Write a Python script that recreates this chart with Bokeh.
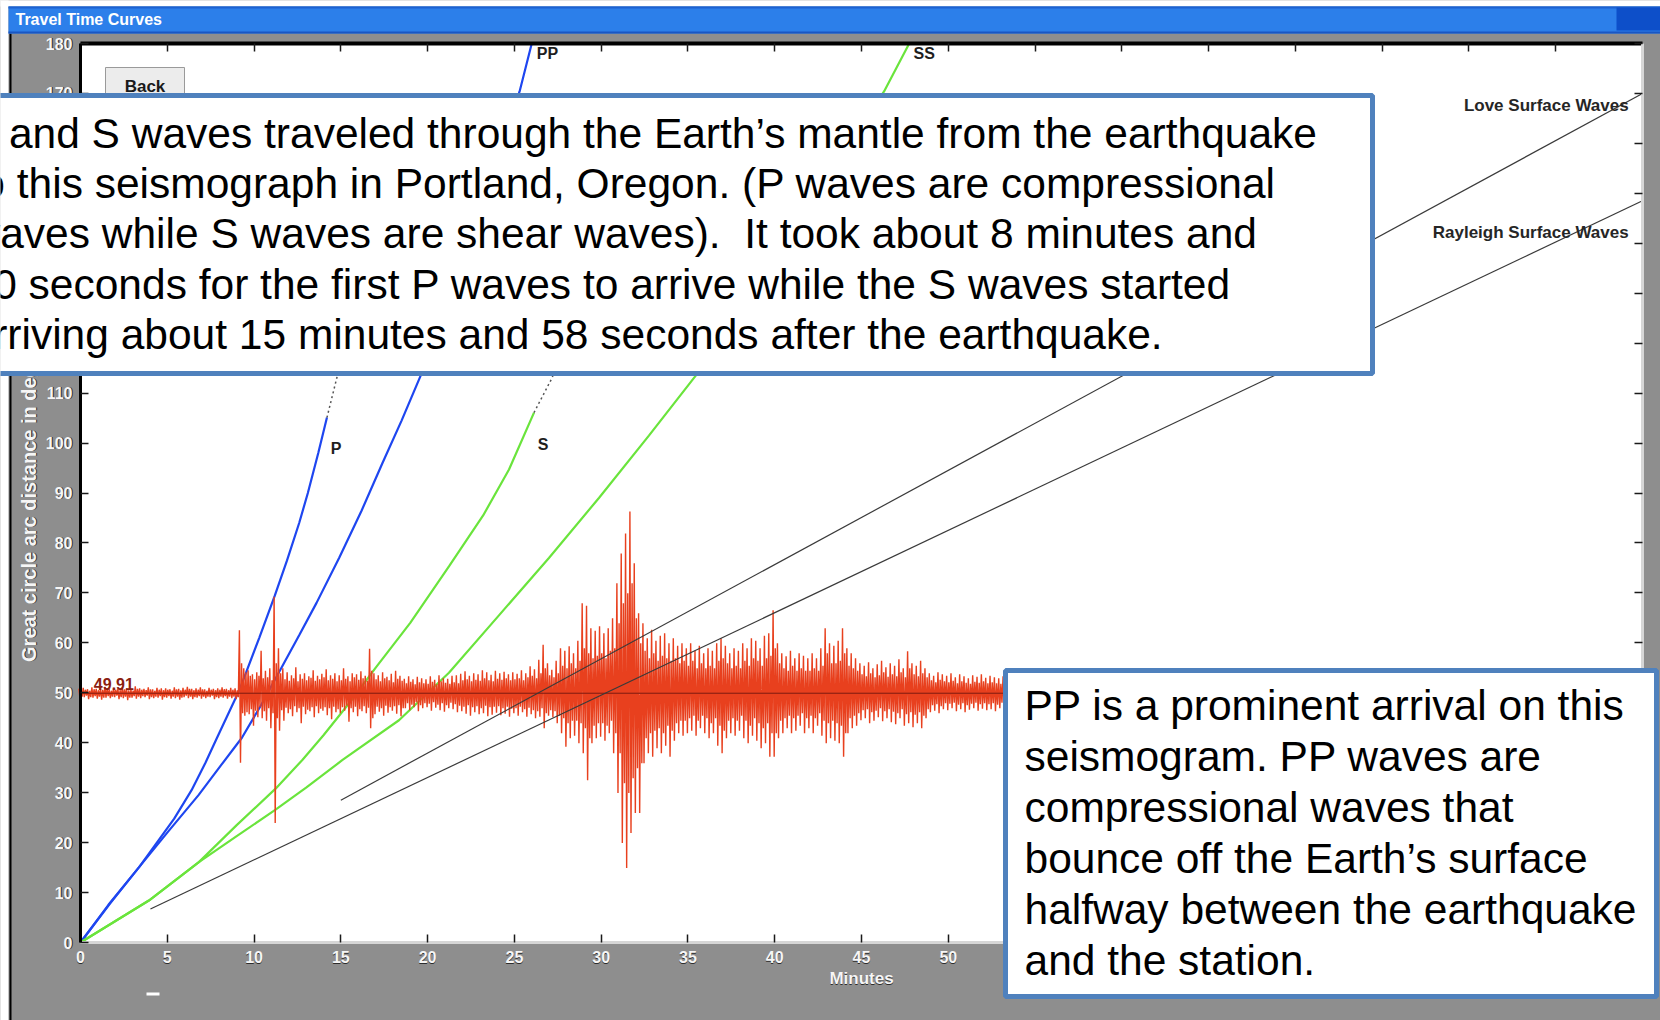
import numpy as np
from bokeh.plotting import figure
from bokeh.models import Range1d, LinearAxis, FixedTicker, BoxAnnotation, Label
from bokeh.core.properties import value
from bokeh.embed import file_html
from bokeh.resources import INLINE

# ---------------- data ----------------
# travel-time curves: time after origin (minutes) vs. great-circle distance (degrees)
p_time = [0.0, 1.6, 3.4, 4.4, 5.4, 6.4, 7.2, 7.8, 9.15, 10.3, 11.2, 11.9, 12.6, 13.1, 13.7, 14.2]
p_dist = [0.0, 7.5, 15.2, 20.0, 24.8, 30.5, 36.0, 40.5, 50.5, 61.0, 69.5, 76.5, 84.0, 90.0, 98.0, 105.1]
pdiff_time = [14.2, 14.8, 14.85]
pdiff_dist = [105.1, 113.5, 114.5]

pp_time = [0.0, 1.7, 3.4, 5.0, 6.8, 8.1, 9.3, 10.4, 11.5, 12.6, 13.6, 14.9, 16.2, 17.4, 18.5, 19.6, 25.3, 26.0]
pp_dist = [0.0, 7.8, 15.2, 22.0, 29.5, 35.5, 41.0, 47.5, 54.5, 61.5, 68.0, 77.0, 86.5, 96.0, 104.5, 113.5, 170.4, 180.0]

s_time = [0.0, 3.94, 6.82, 9.0, 11.24, 12.77, 14.0, 15.5, 17.0, 19.0, 21.23, 23.2, 24.69, 26.13]
s_dist = [0.0, 8.4, 16.1, 23.5, 30.8, 36.5, 41.5, 48.0, 55.0, 64.0, 75.3, 85.5, 94.7, 106.1]
sdiff_time = [26.13, 27.18, 27.3]
sdiff_dist = [106.1, 113.1, 114.5]

ss_time = [0.0, 3.94, 6.82, 9.0, 11.24, 13.0, 15.08, 18.35, 21.23, 24.11, 26.99, 29.87, 32.75, 35.45, 46.3, 47.75]
ss_dist = [0.0, 8.4, 16.1, 21.3, 26.6, 31.0, 36.5, 44.5, 54.0, 65.5, 77.0, 89.0, 101.5, 113.5, 170.4, 180.0]

love_time = [15.0, 90.0]
love_dist = [28.5, 170.0]
rayleigh_time = [4.03, 90.0]
rayleigh_dist = [6.7, 148.5]

# seismogram recorded at the station, plotted about its distance
station_dist = 49.91
# excursions (degrees of plot offset) above / below the baseline, four per
# quarter minute from t = 0: the larger swing pair, then the smaller one
trace_t0 = 0.0
trace_dt = 0.25
trace_hi = [
    0.9, 1.1, 0.8, 1.2, 0.9, 1.0, 1.3, 0.8, 1.1, 0.9, 1.2, 1.0, 0.8, 1.4, 1.0, 0.9, 1.2, 0.8, 1.1, 1.0,
    1.0, 0.8, 1.2, 0.9, 1.1, 1.3, 0.9, 1.0, 1.2, 0.8, 1.1, 0.9, 1.0, 1.2, 0.9, 1.1, 1.0, 12.6, 5.0, 4.6,
    3.8, 4.2, 8.5, 4.5, 5.0, 19.3, 9.0, 5.0, 4.2, 3.6, 5.2, 3.8, 4.0, 3.4, 4.6, 3.5, 3.9, 4.8, 3.6, 4.0,
    3.6, 5.0, 3.4, 4.0, 3.8, 4.4, 3.5, 8.9, 4.0, 3.6, 4.2, 3.3, 3.9, 4.5, 3.5, 2.9, 3.4, 2.8, 3.3, 3.0,
    2.8, 3.4, 2.7, 3.6, 3.0, 2.9, 3.5, 3.6, 3.9, 4.4, 3.5, 4.0, 3.8, 4.6, 4.2, 3.7, 4.5, 4.0, 4.3, 3.8,
    4.2, 3.9, 4.6, 4.0, 5.4, 4.8, 6.7, 9.7, 6.0, 4.7, 6.5, 9.0, 8.5, 9.4, 8.0, 10.5, 18.0, 17.5, 13.0, 12.5,
    13.4, 12.0, 13.0, 15.0, 22.0, 28.0, 32.0, 36.4, 26.0, 16.0, 14.0, 11.0, 12.7, 10.5, 11.5, 12.0, 10.0, 11.0, 9.5, 10.0,
    9.0, 10.0, 8.5, 9.5, 8.0, 9.0, 8.5, 10.0, 11.0, 9.5, 8.0, 9.0, 8.5, 10.0, 9.0, 11.0, 10.5, 9.0, 11.5, 12.0,
    16.6, 10.0, 8.0, 7.4, 8.5, 7.0, 8.0, 7.5, 7.0, 8.0, 7.0, 9.0, 13.0, 10.0, 9.5, 10.5, 13.0, 9.0, 8.0, 7.0,
    6.0, 5.5, 6.2, 5.0, 5.8, 6.5, 5.2, 6.0, 5.5, 6.8, 5.0, 8.4, 6.0, 5.5, 6.5, 5.0, 4.0, 3.5, 4.2, 3.8,
    3.5, 4.0, 3.2, 3.8, 3.4, 3.0, 3.6, 3.3, 3.8, 3.1, 3.5, 3.2, 3.0, 3.4, 3.1, 3.3, 3.0,
]
trace_lo = [
    -1.0, -0.8, -1.2, -0.9, -1.1, -1.3, -0.9, -1.0, -0.8, -1.2, -1.0, -1.4, -0.9, -1.1, -1.0, -0.8, -1.2, -1.0, -0.9, -1.3,
    -0.9, -1.1, -1.0, -1.3, -0.8, -1.0, -1.2, -0.9, -1.1, -1.0, -0.8, -1.2, -1.0, -0.9, -1.1, -1.0, -1.2, -13.9, -4.5, -4.2,
    -6.5, -4.8, -5.0, -5.5, -7.0, -26.0, -7.5, -5.5, -4.0, -4.6, -3.8, -6.0, -4.2, -3.6, -4.8, -4.0, -3.5, -4.4, -5.2, -3.8,
    -4.0, -3.5, -5.7, -3.8, -4.6, -3.6, -4.0, -7.0, -4.2, -3.7, -4.5, -3.9, -3.5, -4.1, -4.6, -3.0, -3.4, -2.8, -3.6, -3.0,
    -2.8, -3.5, -2.9, -3.4, -3.7, -3.0, -3.2, -3.8, -3.6, -4.1, -4.5, -3.8, -4.2, -4.0, -4.6, -4.3, -3.9, -4.4, -4.1, -4.7,
    -4.0, -4.5, -3.8, -4.7, -4.2, -5.0, -4.7, -7.0, -4.5, -4.8, -6.0, -8.0, -10.7, -9.0, -8.5, -10.0, -12.0, -17.4, -10.0, -9.0,
    -8.7, -9.5, -8.0, -12.0, -20.0, -30.0, -35.0, -28.0, -24.0, -24.0, -14.0, -12.0, -12.7, -11.0, -12.0, -10.5, -12.7, -9.5, -8.0, -8.5,
    -8.0, -7.5, -8.5, -7.0, -8.0, -9.0, -8.0, -10.5, -12.0, -9.0, -8.0, -8.5, -7.5, -9.0, -10.0, -8.5, -9.5, -11.0, -10.0, -12.7,
    -12.7, -9.0, -8.0, -7.0, -8.0, -7.5, -6.5, -8.0, -7.0, -8.0, -6.5, -8.5, -10.0, -9.0, -9.5, -10.0, -12.7, -8.0, -7.0, -6.5,
    -5.4, -5.0, -6.0, -5.5, -4.8, -5.6, -5.0, -5.8, -6.2, -5.0, -6.5, -6.0, -6.8, -6.0, -7.0, -5.0, -3.8, -3.5, -4.0, -3.2,
    -3.4, -3.0, -3.6, -3.2, -3.8, -3.3, -3.0, -3.5, -3.1, -3.4, -3.2, -3.6, -3.0, -3.3, -3.1, -3.4, -3.2,
]
trace_mid_hi = [
    0.6, 0.7, 0.5, 0.8, 0.6, 0.7, 0.9, 0.5, 0.7, 0.6, 0.8, 0.6, 0.5, 0.9, 0.7, 0.6, 0.8, 0.5, 0.7, 0.6,
    0.7, 0.5, 0.8, 0.6, 0.7, 0.9, 0.6, 0.7, 0.8, 0.5, 0.7, 0.6, 0.7, 0.8, 0.6, 0.7, 0.6, 6.0, 4.2, 3.5,
    2.8, 3.5, 3.0, 3.2, 2.6, 6.0, 4.0, 2.8, 2.5, 3.0, 2.4, 2.9, 2.6, 3.1, 2.5, 2.8, 3.2, 2.6, 2.9, 2.4,
    2.6, 2.9, 2.4, 3.2, 2.7, 3.0, 2.5, 4.5, 2.8, 2.4, 3.0, 2.6, 2.2, 2.9, 2.5, 2.0, 2.3, 1.8, 2.2, 2.0,
    1.9, 2.3, 1.8, 2.4, 2.1, 1.9, 2.2, 2.0, 2.6, 2.8, 2.4, 2.7, 2.5, 3.0, 2.6, 2.4, 2.9, 2.7, 3.0, 2.6,
    2.8, 3.0, 2.6, 3.2, 3.5, 3.0, 4.0, 5.0, 3.6, 3.2, 4.0, 5.5, 5.0, 6.0, 5.0, 6.5, 9.0, 8.0, 7.0, 7.5,
    8.0, 7.0, 8.5, 9.0, 14.0, 18.0, 20.0, 22.0, 15.0, 10.0, 8.5, 7.0, 8.0, 6.5, 7.5, 7.0, 6.5, 7.0, 6.0, 6.5,
    5.5, 6.5, 5.0, 6.0, 5.0, 5.5, 5.0, 6.5, 7.0, 6.0, 5.0, 5.5, 5.0, 6.5, 5.5, 7.0, 6.5, 5.5, 7.0, 7.5,
    9.0, 6.0, 5.0, 4.5, 5.5, 4.5, 5.0, 4.5, 4.5, 5.0, 4.5, 5.5, 8.0, 6.0, 6.0, 6.5, 8.0, 5.5, 5.0, 4.5,
    3.8, 3.4, 4.0, 3.2, 3.6, 4.2, 3.3, 3.8, 3.4, 4.2, 3.2, 5.0, 3.8, 3.4, 4.0, 3.2, 2.6, 2.2, 2.7, 2.4,
    2.2, 2.5, 2.0, 2.4, 2.1, 1.9, 2.3, 2.1, 2.4, 2.0, 2.2, 2.0, 1.9, 2.2, 2.0, 2.1, 1.9,
]
trace_mid_lo = [
    -0.7, -0.5, -0.8, -0.6, -0.7, -0.9, -0.6, -0.7, -0.5, -0.8, -0.7, -0.9, -0.6, -0.7, -0.6, -0.5, -0.8, -0.7, -0.6, -0.8,
    -0.6, -0.7, -0.7, -0.9, -0.5, -0.7, -0.8, -0.6, -0.7, -0.7, -0.5, -0.8, -0.7, -0.6, -0.7, -0.7, -0.8, -4.0, -3.8, -3.2,
    -3.5, -2.8, -3.6, -3.0, -4.0, -5.0, -3.4, -2.9, -3.2, -2.6, -3.0, -2.7, -3.3, -2.8, -2.6, -3.1, -2.8, -3.0, -2.7, -3.2,
    -2.8, -2.5, -3.0, -2.7, -3.2, -2.6, -2.9, -5.0, -2.7, -3.0, -2.5, -2.8, -2.6, -2.4, -3.0, -2.0, -2.3, -1.8, -2.4, -2.0,
    -2.1, -1.8, -2.3, -2.0, -2.4, -1.9, -2.2, -2.5, -2.7, -2.4, -2.8, -2.6, -3.0, -2.5, -2.8, -2.7, -2.6, -3.0, -2.7, -3.1,
    -3.0, -2.7, -3.2, -2.9, -3.4, -3.6, -3.0, -4.0, -3.4, -3.6, -4.5, -5.0, -6.0, -5.5, -5.5, -6.0, -7.0, -9.0, -6.5, -6.0,
    -6.0, -6.5, -5.5, -8.0, -12.0, -18.0, -20.0, -17.0, -15.0, -14.0, -9.0, -8.0, -7.5, -7.0, -8.0, -6.5, -7.5, -6.0, -5.5, -5.5,
    -5.0, -4.5, -5.5, -4.5, -5.0, -6.0, -5.0, -6.5, -7.5, -5.5, -5.0, -5.5, -4.5, -5.5, -6.5, -5.0, -6.0, -7.0, -6.0, -8.0,
    -8.0, -5.5, -5.0, -4.5, -5.0, -4.5, -4.0, -5.0, -4.5, -5.0, -4.0, -5.5, -6.0, -5.5, -6.0, -6.5, -8.0, -5.0, -4.5, -4.0,
    -3.4, -3.2, -3.8, -3.5, -3.0, -3.6, -3.2, -3.7, -4.0, -3.2, -4.2, -3.8, -4.3, -3.8, -4.5, -3.2, -2.4, -2.2, -2.6, -2.0,
    -2.1, -1.9, -2.3, -2.0, -2.4, -2.1, -1.9, -2.2, -2.0, -2.2, -2.0, -2.3, -1.9, -2.1, -2.0, -2.2, -2.0,
]

minute_ticks = [0, 5, 10, 15, 20, 25, 30, 35, 40, 45, 50, 55, 60, 65, 70, 75, 80, 85, 90]
degree_ticks = [0, 10, 20, 30, 40, 50, 60, 70, 80, 90, 100, 110, 120, 130, 140, 150, 160, 170, 180]

note_top = [
    "P and S waves traveled through the Earth\u2019s mantle from the earthquake",
    "to this seismograph in Portland, Oregon. (P waves are compressional",
    "waves while S waves are shear waves).\u00a0 It took about 8 minutes and",
    "50 seconds for the first P waves to arrive while the S waves started",
    "arriving about 15 minutes and 58 seconds after the earthquake.",
]
note_bottom = [
    "PP is a prominent arrival on this",
    "seismogram. PP waves are",
    "compressional waves that",
    "bounce off the Earth\u2019s surface",
    "halfway between the earthquake",
    "and the station.",
]

# ---------------- page geometry ----------------
W, H = 1660, 1020
FL, FR, FT, FB = 80, 1642, 43, 942     # where the chart area sits on the page
X_MAX, Y_MAX = 90.0, 180.0
XPX = (FR - FL) / X_MAX                # pixels per minute
YPX = (FB - FT) / Y_MAX                # pixels per degree
x_start, x_end = -FL / XPX, X_MAX + (W - FR) / XPX
y_start, y_end = -(H - FB) / YPX, Y_MAX + FT / YPX


def px_x(px):
    return x_start + px / XPX


def px_y(py):
    return y_end - py / YPX


BLUE = "#1e46f0"
GREEN = "#6ae43c"
RED = "#e8401e"
GRAY_BG = "#8e8e8e"
LIGHT = "#f6f6f6"
DARK = "#2c2c2c"
UI_FONT = "Liberation Sans"

# the plotting frame covers the whole window; the axes sit at fixed data positions
p = figure(width=W, height=H, x_range=Range1d(x_start, x_end), y_range=Range1d(y_start, y_end),
           output_backend="svg", toolbar_location=None,
           x_axis_location=None, y_axis_location=None, min_border=0,
           background_fill_color=GRAY_BG, border_fill_color=GRAY_BG,
           outline_line_color=None)
p.grid.visible = False

# white chart area
p.add_layout(BoxAnnotation(left=0, right=X_MAX, bottom=0, top=Y_MAX, level="underlay",
                           fill_color="white", fill_alpha=1.0, line_alpha=0.0))


def make_axis(ticks, loc, bounds, line_color, line_width, label_color=None, standoff=8,
              show_line=True):
    ax = LinearAxis(ticker=FixedTicker(ticks=ticks), fixed_location=loc, bounds=bounds)
    ax.axis_line_color = line_color if show_line else None
    ax.axis_line_width = line_width
    ax.major_tick_in = 8
    ax.major_tick_out = 0
    ax.major_tick_line_color = "#1a1a1a" if show_line else None
    ax.major_tick_line_width = 1.5
    ax.minor_tick_line_color = None
    ax.major_label_text_font = UI_FONT
    ax.major_label_text_font_size = "16px"
    ax.major_label_text_font_style = "bold"
    ax.major_label_text_color = label_color
    ax.major_label_standoff = standoff
    return ax


def titled(ax, text, size, color, standoff):
    ax.axis_label = text
    ax.axis_label_standoff = standoff
    ax.axis_label_text_font = UI_FONT
    ax.axis_label_text_font_size = size
    ax.axis_label_text_font_style = "bold"
    ax.axis_label_text_color = color
    return ax


# embossed look of the window's scale numbers: a dark copy one pixel off, then the light one
x_shadow = make_axis(minute_ticks, 0, (0, X_MAX), None, 0, DARK, standoff=9, show_line=False)
titled(x_shadow, "Minutes", "17px", DARK, 3)
p.add_layout(x_shadow, "below")
y_shadow = make_axis(degree_ticks, 0, (0, Y_MAX), None, 0, DARK, standoff=7, show_line=False)
titled(y_shadow, "Great circle arc distance in degrees", "20px", DARK, 3)
p.add_layout(y_shadow, "left")

xaxis = make_axis(minute_ticks, 0, (0, X_MAX), "#d6d6d6", 3, LIGHT, standoff=8)
titled(xaxis, "Minutes", "17px", LIGHT, 3)
p.add_layout(xaxis, "below")
yaxis = make_axis(degree_ticks, 0, (0, Y_MAX), "black", 3, LIGHT, standoff=8)
titled(yaxis, "Great circle arc distance in degrees", "20px", LIGHT, 3)
p.add_layout(yaxis, "left")

p.add_layout(make_axis(minute_ticks, Y_MAX, (0, X_MAX), "black", 4), "above")
p.add_layout(make_axis(degree_ticks, X_MAX, (0, Y_MAX), "#d6d6d6", 3), "right")

# ---------------- curves ----------------
p.line(p_time, p_dist, line_color=BLUE, line_width=2.2)
p.line(pp_time, pp_dist, line_color=BLUE, line_width=2.2)
p.line(s_time, s_dist, line_color=GREEN, line_width=2.2)
p.line(ss_time, ss_dist, line_color=GREEN, line_width=2.2)
p.line(pdiff_time, pdiff_dist, line_color="#555555", line_width=1.5, line_dash="2 3")
p.line(sdiff_time, sdiff_dist, line_color="#555555", line_width=1.5, line_dash="2 3")

# seismogram as a dense zig-zag through the excursions of every quarter minute
t = trace_t0 + trace_dt * np.arange(len(trace_hi))
sub = trace_dt / 4
samples = [(trace_hi, -1.5), (trace_lo, -0.5), (trace_mid_hi, 0.5), (trace_mid_lo, 1.5)]
xs = np.empty(4 * len(t))
ys = np.empty(4 * len(t))
for k, (vals, off) in enumerate(samples):
    xs[k::4] = t + off * sub
    ys[k::4] = station_dist + np.array(vals)
p.line(xs, ys, line_color=RED, line_width=1.4)
p.line([t[0], t[-1]], [station_dist, station_dist], line_color="#7d1a10", line_width=1)

p.line(love_time, love_dist, line_color="#3a3a3a", line_width=1.2)
p.line(rayleigh_time, rayleigh_dist, line_color="#3a3a3a", line_width=1.2)

# phase names and the station distance
p.text(x=[14.73, 26.65], y=[98.9, 99.7], text=["P", "S"],
       text_font=value(UI_FONT), text_font_size=value("16px"), text_font_style="bold",
       text_color="#1e1e1e", text_align="center", text_baseline="middle")
p.text(x=[26.29, 48.0], y=[177.9, 177.9], text=["PP", "SS"],
       text_font=value(UI_FONT), text_font_size=value("16px"), text_font_style="bold",
       text_color="#1e1e1e", text_align="left", text_baseline="middle")
p.text(x=[89.2, 89.2], y=[167.6, 142.2], text=["Love Surface Waves", "Rayleigh Surface Waves"],
       text_font=value(UI_FONT), text_font_size=value("17px"), text_font_style="bold",
       text_color="#262626", text_align="right", text_baseline="middle")
p.text(x=[0.77], y=[station_dist + 1.9], text=[f"{station_dist:.2f}"],
       text_font=value(UI_FONT), text_font_size=value("16px"), text_font_style="bold",
       text_color="#8b2010", text_align="left", text_baseline="middle")


# ---------------- window chrome and notes (placed in page pixels) ----------------
def panel(l, t_, r, b, fill, line=None, lw=0, level="annotation"):
    p.add_layout(BoxAnnotation(left=px_x(l), right=px_x(r), top=px_y(t_), bottom=px_y(b),
                               fill_color=fill, fill_alpha=1.0, level=level,
                               line_color=line, line_width=lw, line_alpha=1.0 if line else 0.0))


def label(px, py, text, size, color="black", bold=False, align="left", font=UI_FONT):
    # py is the text baseline on the page
    lift = 0.357 * float(size.replace("px", ""))
    p.add_layout(Label(x=px_x(px), y=px_y(py - lift), text=text, text_font=font,
                       text_font_size=size, text_font_style="bold" if bold else "normal",
                       text_color=color, text_align=align, text_baseline="alphabetic"))


# page margins, window border and title bar
panel(-20, -20, W + 20, 6, "white", level="underlay")
panel(-20, -20, 8, H + 20, "white", level="underlay")
panel(9, 33, 11, H + 20, "black", level="underlay")
panel(8, 6, W + 20, 33, "#2c7fea", level="underlay")
panel(8, 6, W + 20, 8, "#1d62d2", level="underlay")
panel(8, 31, W + 20, 33, "#1a56c2", level="underlay")
panel(1616, 7, W + 20, 30, "#0d4fc9", level="underlay")
panel(146, 992, 159, 995, "white", level="underlay")
label(15, 25, "Travel Time Curves", "16px", color="white", bold=True)

# Back button
panel(105, 67, 184, 101, "#ececec", line="#9a9a9a", lw=1)
label(144.5, 92, "Back", "17px", color="#1a1a1a", bold=True, align="center")

# upper note
panel(-40, 95, 1372, 373, "white", line="#4f81bd", lw=5)
for i, line_text in enumerate(note_top):
    label(-31, 148 + 50.3 * i, line_text, "42.5px")

# lower note
panel(1005, 670, 1656, 996, "white", line="#4f81bd", lw=5)
for i, line_text in enumerate(note_bottom):
    label(1024, 720 + 51 * i, line_text, "42.5px")

open("out.html", "w").write(file_html(p, INLINE))
